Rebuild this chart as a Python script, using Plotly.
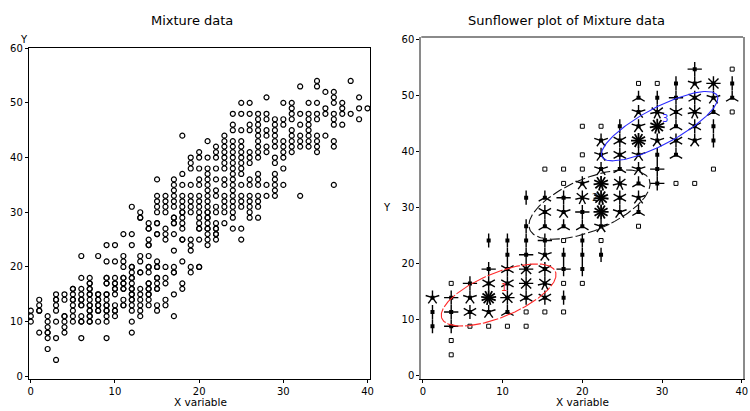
import numpy as np
import plotly.graph_objects as go

W, H = 750, 411

# ---------------- Left panel: Mixture data (x integer levels, y values per x) ----------------
mixture_x_levels = list(range(41))
mixture_y_by_x = [
    [10, 11, 12],
    [8, 12, 12, 13, 14],
    [5, 7, 8, 8, 9, 10, 11],
    [3, 7, 10, 12, 13, 14, 14, 15],
    [8, 9, 10, 11, 11, 14, 15],
    [10, 11, 12, 13, 14, 14, 15, 16, 16],
    [7, 10, 10, 11, 13, 13, 14, 14, 15, 16, 18, 22],
    [10, 10, 11, 11, 12, 12, 13, 13, 14, 15, 15, 16, 16, 17, 17, 18],
    [10, 12, 12, 13, 13, 14, 14, 15, 15, 22],
    [7, 10, 11, 12, 12, 13, 13, 14, 15, 15, 17, 17, 18, 18, 21, 24],
    [11, 12, 12, 13, 15, 16, 16, 17, 17, 18, 21, 24],
    [13, 13, 14, 16, 16, 17, 17, 18, 18, 20, 21, 22, 26],
    [8, 10, 12, 13, 14, 14, 15, 15, 16, 16, 17, 18, 18, 19, 20, 20, 24, 26, 31],
    [11, 12, 13, 14, 15, 16, 19, 19, 21, 22, 29, 29, 30],
    [13, 14, 15, 15, 16, 16, 17, 17, 19, 20, 20, 22, 24, 24, 25, 27, 27, 28],
    [12, 13, 16, 16, 17, 18, 18, 20, 20, 21, 26, 26, 28, 28, 30, 31, 32, 33, 36],
    [13, 14, 17, 18, 20, 25, 26, 27, 30, 31, 32, 33],
    [11, 15, 19, 19, 20, 23, 26, 28, 28, 29, 29, 31, 32, 33, 34, 35, 36],
    [16, 17, 21, 25, 25, 27, 28, 29, 30, 30, 31, 32, 33, 35, 37, 44],
    [19, 20, 23, 24, 25, 30, 31, 32, 33, 35, 38, 39, 40],
    [20, 20, 25, 27, 27, 28, 29, 30, 31, 32, 33, 35, 36, 38, 40, 41],
    [24, 25, 26, 27, 27, 28, 29, 29, 30, 30, 31, 32, 33, 34, 35, 36, 37, 38, 40, 43],
    [25, 26, 26, 27, 27, 28, 30, 31, 33, 34, 36, 38, 40, 41, 42],
    [28, 30, 31, 32, 33, 35, 36, 38, 39, 40, 41, 42, 43, 44],
    [27, 29, 30, 31, 32, 33, 34, 35, 36, 37, 38, 39, 40, 41, 42, 43, 45, 46, 48],
    [25, 27, 31, 32, 33, 35, 37, 38, 39, 40, 41, 42, 43, 45, 48, 50],
    [29, 30, 31, 32, 33, 35, 36, 39, 40, 41, 45, 46, 48, 50],
    [29, 31, 32, 33, 35, 36, 37, 40, 41, 42, 43, 44, 45, 46, 47, 48],
    [33, 35, 41, 42, 44, 45, 47, 48, 51],
    [33, 34, 35, 36, 37, 39, 40, 42, 43, 44, 45, 46, 47],
    [35, 38, 40, 41, 42, 43, 46, 47, 50],
    [41, 42, 43, 44, 45, 47, 48, 49, 50],
    [33, 42, 43, 44, 46, 48, 53],
    [42, 43, 44, 45, 46, 47, 48, 50],
    [41, 42, 43, 44, 47, 48, 50, 53, 54],
    [44, 48, 49, 52],
    [35, 42, 43, 46, 47, 48, 50, 51, 52],
    [46, 48, 49, 50],
    [48, 54],
    [47, 49, 51],
    [49],
]

# ---------------- Right panel: sunflower bins (column index, row index, count) ----------------
sun_x_start, sun_x_step = 0.025, 2.35
sun_y_start, sun_y_step = 2.5, 2.55
sun_col = [1, 1,
           0, 1, 2, 3, 4, 5,
           0, 1, 2, 3, 4, 5, 6, 7,
           0, 1, 2, 3, 4, 5, 6, 7,
           1, 2, 3, 4, 5, 6, 7, 8,
           3, 4, 5, 6, 7, 8,
           4, 5, 6, 7, 8, 9,
           3, 4, 5, 6, 7, 8, 9,
           5, 6, 7, 8, 9, 11,
           6, 7, 8, 9, 10, 11,
           5, 6, 7, 8, 9, 10, 11,
           7, 8, 9, 10, 11, 12, 13, 14,
           6, 7, 8, 9, 10, 11, 12, 15,
           8, 9, 10, 11, 12, 13,
           9, 10, 11, 12, 13, 14, 15,
           8, 9, 10, 11, 12, 13, 14, 15,
           11, 12, 13, 14, 15, 16,
           11, 12, 13, 14, 15, 16,
           11, 12, 13, 14, 15, 16,
           14, 16]
sun_row = [0, 1,
           2, 2, 2, 2, 2, 2,
           3, 3, 3, 3, 3, 3, 3, 3,
           4, 4, 4, 4, 4, 4, 4, 4,
           5, 5, 5, 5, 5, 5, 5, 5,
           6, 6, 6, 6, 6, 6,
           7, 7, 7, 7, 7, 7,
           8, 8, 8, 8, 8, 8, 8,
           9, 9, 9, 9, 9, 9,
           10, 10, 10, 10, 10, 10,
           11, 11, 11, 11, 11, 11, 11,
           12, 12, 12, 12, 12, 12, 12, 12,
           13, 13, 13, 13, 13, 13, 13, 13,
           14, 14, 14, 14, 14, 14,
           15, 15, 15, 15, 15, 15, 15,
           16, 16, 16, 16, 16, 16, 16, 16,
           17, 17, 17, 17, 17, 17,
           18, 18, 18, 18, 18, 18,
           19, 19, 19, 19, 19, 19,
           20, 20]
sun_n = [1, 1,
         2, 4, 1, 1, 1, 1,
         2, 4, 6, 5, 3, 1, 1, 1,
         5, 4, 5, 26, 8, 6, 6, 2,
         1, 4, 6, 6, 8, 7, 1, 1,
         4, 6, 8, 6, 4, 2,
         2, 4, 5, 2, 2, 2,
         2, 2, 2, 4, 1, 2, 1,
         2, 3, 3, 3, 5, 1,
         6, 5, 4, 24, 5, 3,
         2, 3, 4, 7, 22, 6, 5,
         1, 5, 22, 7, 3, 4, 1, 1,
         1, 1, 1, 5, 3, 5, 4, 1,
         1, 5, 6, 5, 2, 3,
         5, 6, 24, 5, 6, 5, 2,
         1, 1, 2, 5, 22, 3, 6, 2,
         5, 7, 6, 7, 3, 1,
         3, 2, 4, 6, 5, 3,
         1, 1, 2, 5, 8, 2,
         4, 1]
dark_min_count = 13
dark_petal_weight = 2

# ---------------- Cluster ellipses (means and covariance scale) ----------------
cluster_labels = ["1", "2", "3"]
cluster_mean_x = [9.5, 20.9, 29.7]
cluster_mean_y = [14.45, 30.6, 44.6]
cluster_sxx = [51.8, 57.8, 53.3]
cluster_syy = [30.8, 38.4, 38.4]
cluster_sxy = [26.0, 28.0, 36.4]
cluster_colors = ["#ff2a2a", "#111111", "#2b2bff"]
cluster_dash = ["16px,2px", "10px,3px", "solid"]

FONT = "DejaVu Sans"

# axis geometry (pixels)
L_X0, L_X1, L_Y0, L_Y1 = 27.0, 371.0, 43.5, 381.0
R_X0, R_X1, R_Y0, R_Y1 = 422.7, 747.0, 32.7, 381.0
L_XR = [-0.24, 40.3]
L_YR = [-0.41, 60.09]
R_XR = [-0.2, 40.16]
R_YR = [-0.47, 60.5]

fig = go.Figure()

# Left scatter
mx, my = [], []
for xv, ys in zip(mixture_x_levels, mixture_y_by_x):
    for yv in ys:
        mx.append(xv)
        my.append(yv)
fig.add_trace(go.Scatter(
    x=mx, y=my, mode="markers", xaxis="x", yaxis="y",
    marker=dict(symbol="circle-open", size=5, color="black", line=dict(width=1.2, color="black")),
    showlegend=False, hoverinfo="skip"))

# Sunflowers
ux = (R_X1 - R_X0) / (R_XR[1] - R_XR[0])  # px per x unit
uy = (R_Y1 - R_Y0) / (R_YR[1] - R_YR[0])  # px per y unit
petal_px = 7.2
dark_petal_px = 7.6

single_x, single_y = [], []
cen_x, cen_y = [], []
light_x, light_y = [], []
dark_x, dark_y = [], []
for i, j, n in zip(sun_col, sun_row, sun_n):
    cx = sun_x_start + (i + 0.5) * sun_x_step
    cy = sun_y_start + (j + 0.5) * sun_y_step
    if n == 1:
        single_x.append(cx)
        single_y.append(cy)
        continue
    dark = n >= dark_min_count
    k = n // dark_petal_weight if dark else n
    r = dark_petal_px if dark else petal_px
    tx, ty = (dark_x, dark_y) if dark else (light_x, light_y)
    for p in range(k):
        a = np.pi / 2 + 2 * np.pi * p / k
        tx += [cx, cx + r / ux * np.cos(a), None]
        ty += [cy, cy + r / uy * np.sin(a), None]
    cen_x.append(cx)
    cen_y.append(cy)

fig.add_trace(go.Scatter(x=light_x, y=light_y, mode="lines", xaxis="x2", yaxis="y2",
                         line=dict(color="black", width=1.4), showlegend=False, hoverinfo="skip"))
fig.add_trace(go.Scatter(x=dark_x, y=dark_y, mode="lines", xaxis="x2", yaxis="y2",
                         line=dict(color="black", width=1.8), showlegend=False, hoverinfo="skip"))
fig.add_trace(go.Scatter(x=cen_x, y=cen_y, mode="markers", xaxis="x2", yaxis="y2",
                         marker=dict(symbol="square", size=4, color="black"),
                         showlegend=False, hoverinfo="skip"))
fig.add_trace(go.Scatter(x=single_x, y=single_y, mode="markers", xaxis="x2", yaxis="y2",
                         marker=dict(symbol="square-open", size=4, color="black",
                                     line=dict(width=1, color="black")),
                         showlegend=False, hoverinfo="skip"))

# Ellipses
t = np.linspace(0, 2 * np.pi, 200)
for lab, mxc, myc, sxx, syy, sxy, col, dsh in zip(cluster_labels, cluster_mean_x, cluster_mean_y,
                                                  cluster_sxx, cluster_syy, cluster_sxy,
                                                  cluster_colors, cluster_dash):
    S = np.array([[sxx, sxy], [sxy, syy]])
    vals, vecs = np.linalg.eigh(S)
    A = vecs @ np.diag(np.sqrt(vals))
    pts = A @ np.vstack([np.cos(t), np.sin(t)])
    fig.add_trace(go.Scatter(x=mxc + pts[0], y=myc + pts[1], mode="lines", xaxis="x2", yaxis="y2",
                             line=dict(color=col, width=1.1, dash=dsh),
                             showlegend=False, hoverinfo="skip"))
    fig.add_annotation(x=mxc, y=myc, xref="x2", yref="y2", text=lab, showarrow=False,
                       xanchor="left", yanchor="bottom", font=dict(family=FONT, size=10, color=col))

def px_x(p):
    return p / W

def px_y(p):
    return 1 - p / H

axis_common = dict(ticks="outside", ticklen=3, tickwidth=1, tickcolor="black",
                   showgrid=False, zeroline=False,
                   tickfont=dict(family=FONT, size=10, color="black"))

fig.update_layout(
    width=W, height=H, margin=dict(l=0, r=0, t=0, b=0),
    paper_bgcolor="white", plot_bgcolor="white",
    xaxis=dict(domain=[px_x(L_X0), px_x(L_X1)], range=L_XR, tickvals=[0, 10, 20, 30, 40],
               showline=True, linecolor="black", linewidth=1, mirror=True, anchor="y", **axis_common),
    yaxis=dict(domain=[px_y(L_Y1), px_y(L_Y0)], range=L_YR, tickvals=[0, 10, 20, 30, 40, 50, 60],
               showline=True, linecolor="black", linewidth=1, mirror=True, anchor="x", **axis_common),
    xaxis2=dict(domain=[px_x(R_X0), px_x(R_X1)], range=R_XR, tickvals=[0, 10, 20, 30, 40],
                showline=True, linecolor="black", linewidth=1, mirror=False, anchor="y2", **axis_common),
    yaxis2=dict(domain=[px_y(R_Y1), px_y(R_Y0)], range=R_YR, tickvals=[0, 10, 20, 30, 40, 50, 60],
                showline=True, linecolor="#8a8a8a", linewidth=2, mirror=True, anchor="x2", **axis_common),
)

fig.add_shape(type="line", xref="x2 domain", yref="y2 domain", x0=0, x1=1, y0=1, y1=1,
              line=dict(color="#8a8a8a", width=2))

def label(text, xp, yp, size, xanchor="center"):
    fig.add_annotation(x=px_x(xp), y=px_y(yp), xref="paper", yref="paper", text=text,
                       showarrow=False, xanchor=xanchor, yanchor="middle",
                       font=dict(family=FONT, size=size, color="black"))

label("Mixture data", 192, 16, 13)
label("Sunflower plot of Mixture data", 569, 16, 13)
label("X variable", 200, 404.5, 10.5)
label("X variable", 585, 404.5, 10.5)
label("Y", 22, 35, 10)
label("Y", 388, 207, 10)

fig.write_html("out.html")
